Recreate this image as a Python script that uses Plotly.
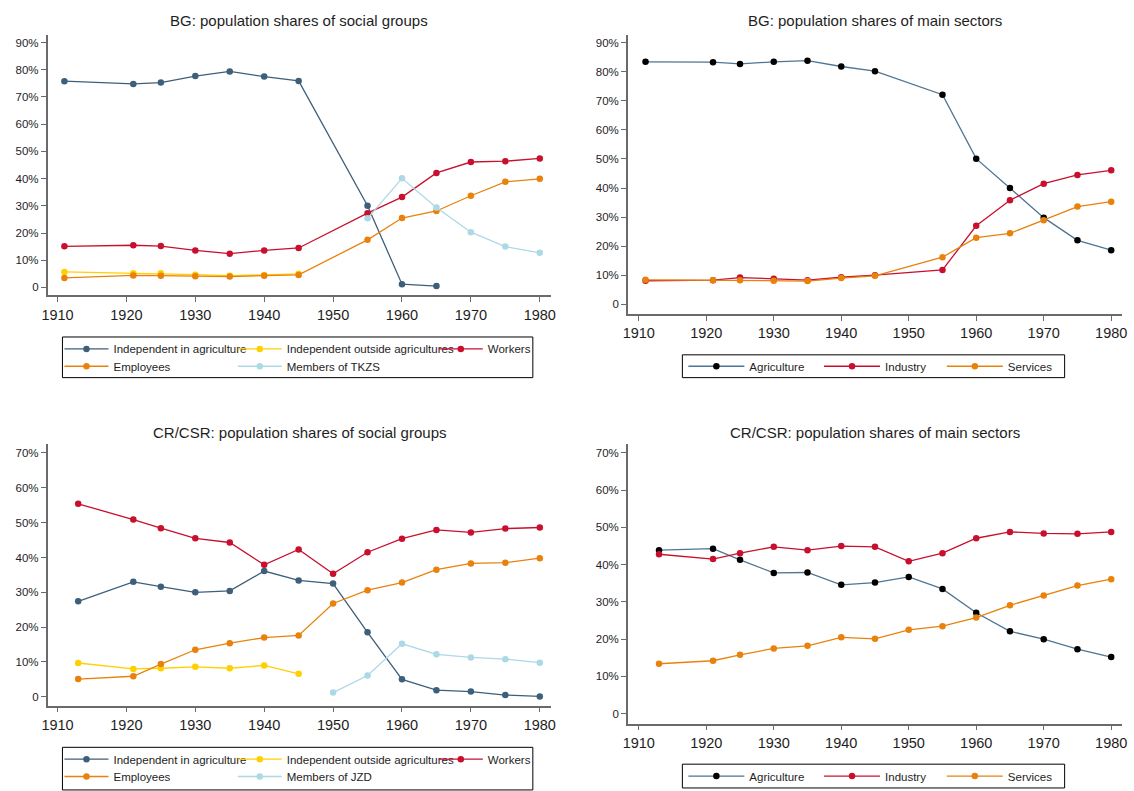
import plotly.graph_objects as go

# ---------------- data (population shares, %) ----------------
# Bulgaria: social groups
bg_years = [1911, 1921, 1925, 1930, 1935, 1940, 1945, 1955, 1960, 1965, 1970, 1975, 1980]
bg_years_agri = [1911, 1921, 1925, 1930, 1935, 1940, 1945, 1955, 1960, 1965]
bg_years_pre = [1911, 1921, 1925, 1930, 1935, 1940, 1945]
bg_years_tkzs = [1955, 1960, 1965, 1970, 1975, 1980]

bg_indep_agri = [75.8, 74.8, 75.3, 77.7, 79.4, 77.5, 75.9, 30.0, 1.2, 0.5]
bg_indep_other = [5.7, 5.2, 5.2, 4.7, 4.3, 4.6, 5.0]
bg_workers = [15.1, 15.5, 15.2, 13.6, 12.4, 13.6, 14.5, 27.3, 33.2, 42.1, 46.1, 46.4, 47.4]
bg_employees = [3.5, 4.4, 4.3, 4.1, 4.0, 4.3, 4.6, 17.5, 25.5, 28.1, 33.7, 38.8, 39.9]
bg_tkzs = [25.4, 40.1, 29.4, 20.3, 15.0, 12.7]

# Bulgaria: main sectors
bg_agriculture = [83.4, 83.3, 82.7, 83.4, 83.8, 81.8, 80.2, 72.1, 50.1, 40.0, 29.8, 22.0, 18.6]
bg_industry = [8.1, 8.3, 9.2, 8.8, 8.3, 9.3, 10.0, 11.8, 27.0, 35.8, 41.5, 44.5, 46.1]
bg_services = [8.4, 8.3, 8.3, 8.1, 8.0, 9.0, 9.8, 16.2, 22.9, 24.4, 28.9, 33.6, 35.3]

# Czechoslovakia: social groups
cs_years = [1913, 1921, 1925, 1930, 1935, 1940, 1945, 1950, 1955, 1960, 1965, 1970, 1975, 1980]
cs_years_pre = [1913, 1921, 1925, 1930, 1935, 1940, 1945]
cs_years_jzd = [1950, 1955, 1960, 1965, 1970, 1975, 1980]

cs_indep_agri = [27.4, 33.0, 31.6, 30.0, 30.4, 36.1, 33.4, 32.5, 18.5, 5.0, 1.9, 1.5, 0.5, 0.1]
cs_indep_other = [9.7, 8.0, 8.2, 8.6, 8.2, 9.0, 6.6]
cs_workers = [55.4, 50.9, 48.4, 45.5, 44.3, 37.9, 42.3, 35.3, 41.5, 45.4, 47.9, 47.2, 48.3, 48.6]
cs_employees = [5.1, 5.9, 9.4, 13.5, 15.4, 17.0, 17.6, 26.8, 30.6, 32.8, 36.5, 38.3, 38.5, 39.8]
cs_jzd = [1.2, 6.1, 15.2, 12.2, 11.3, 10.8, 9.8]

# Czechoslovakia: main sectors
cs_agriculture = [43.9, 44.3, 41.3, 37.8, 37.9, 34.6, 35.2, 36.7, 33.5, 27.1, 22.1, 20.0, 17.3, 15.2]
cs_industry = [42.8, 41.5, 43.1, 44.8, 43.9, 45.0, 44.8, 40.9, 43.1, 47.1, 48.8, 48.4, 48.3, 48.8]
cs_services = [13.4, 14.2, 15.8, 17.5, 18.2, 20.5, 20.1, 22.5, 23.5, 25.8, 29.1, 31.7, 34.4, 36.1]

year_ticks = [1910, 1920, 1930, 1940, 1950, 1960, 1970, 1980]
pct_ticks_90 = [0, 10, 20, 30, 40, 50, 60, 70, 80, 90]
pct_ticks_70 = [0, 10, 20, 30, 40, 50, 60, 70]

titles = [
    "BG: population shares of social groups",
    "BG: population shares of main sectors",
    "CR/CSR: population shares of social groups",
    "CR/CSR: population shares of main sectors",
]

# ---------------- styling ----------------
W, H = 1134, 791
FONT = "Liberation Sans, Arial, Helvetica, sans-serif"
TXT = "#1e1e1e"
AXC = "#6a6a6a"
C_AGRI = "#3E5F7A"
C_AGRI_LINE = "#4E7593"
C_OTHER = "#FFD000"
C_WORK = "#C8102E"
C_EMP = "#E8820C"
C_COOP = "#ADD8E6"


def px_x(v):
    return v / W


def px_y(v):
    return 1 - v / H


def pct_text(vals):
    return ["0" if v == 0 else f"{v}%" for v in vals]


fig = go.Figure()

# panel frames in pixels: (left, right, top, bottom), x range, y range, y ticks
panels = [
    dict(box=(42, 550, 35, 298), xr=[1908.56, 1981.58], yr=[-2.92, 92.9], yt=pct_ticks_90),
    dict(box=(628, 1127, 35, 317), xr=[1908.39, 1981.61], yr=[-3.41, 92.74], yt=pct_ticks_90),
    dict(box=(42, 550, 448, 712), xr=[1908.56, 1981.58], yr=[-2.56, 72.57], yt=pct_ticks_70),
    dict(box=(628, 1127, 448, 730), xr=[1908.39, 1981.61], yr=[-2.66, 72.4], yt=pct_ticks_70),
]

layout_axes = {}
annotations = []
for i, p in enumerate(panels):
    n = "" if i == 0 else str(i + 1)
    l, r, t, b = p["box"]
    layout_axes["xaxis" + n] = dict(
        domain=[px_x(l), px_x(r)], range=p["xr"], anchor="y" + n,
        tickvals=year_ticks, ticks="outside", ticklen=5, tickwidth=1.2, tickcolor=AXC,
        showline=True, linecolor=AXC, linewidth=1.5, showgrid=False, zeroline=False,
        tickfont=dict(family=FONT, size=14.5, color=TXT), fixedrange=True,
    )
    layout_axes["yaxis" + n] = dict(
        domain=[px_y(b), px_y(t)], range=p["yr"], anchor="x" + n,
        tickvals=p["yt"], ticktext=pct_text(p["yt"]), ticks="outside", ticklen=5,
        tickwidth=1.2, tickcolor=AXC, showline=True, linecolor=AXC, linewidth=1.5,
        showgrid=False, zeroline=False,
        tickfont=dict(family=FONT, size=11.5, color=TXT), fixedrange=True,
    )
    annotations.append(dict(
        text=titles[i], xref="paper", yref="paper",
        x=px_x((l + r) / 2), y=px_y(21 if i < 2 else 436),
        xanchor="center", yanchor="middle", showarrow=False,
        font=dict(family=FONT, size=15, color=TXT),
    ))

legend_specs = {}
legend_count = [0]


def add_series(name, xs, ys, panel, line_color, marker_color, leg_left, leg_y, item_w):
    legend_count[0] += 1
    k = legend_count[0]
    lid = "legend" if k == 1 else f"legend{k}"
    ax = "" if panel == 0 else str(panel + 1)
    fig.add_trace(go.Scatter(
        x=xs, y=ys, name=name, mode="lines+markers",
        xaxis="x" + ax, yaxis="y" + ax, legend=lid,
        line=dict(color=line_color, width=1.3),
        marker=dict(color=marker_color, size=6.5),
        hoverinfo="x+y+name",
    ))
    legend_specs[lid] = dict(
        x=px_x(leg_left), y=px_y(leg_y), xanchor="left", yanchor="middle",
        bgcolor="rgba(0,0,0,0)", borderwidth=0, itemwidth=item_w,
        font=dict(family=FONT, size=11.5, color=TXT), tracegroupgap=0,
    )


# column positions of the social-group legends
col_a, col_b, col_c = 54, 229, 432

# BG: social groups
add_series("Independent in agriculture", bg_years_agri, bg_indep_agri, 0, C_AGRI, C_AGRI, col_a, 352, 44)
add_series("Independent outside agricultures", bg_years_pre, bg_indep_other, 0, C_OTHER, C_OTHER, col_b, 352, 44)
add_series("Workers", bg_years, bg_workers, 0, C_WORK, C_WORK, col_c, 352, 44)
add_series("Employees", bg_years, bg_employees, 0, C_EMP, C_EMP, col_a, 369.5, 44)
add_series("Members of TKZS", bg_years_tkzs, bg_tkzs, 0, C_COOP, C_COOP, col_b, 369.5, 44)

# BG: main sectors
add_series("Agriculture", bg_years, bg_agriculture, 1, C_AGRI_LINE, "#000000", 684, 369.5, 56)
add_series("Industry", bg_years, bg_industry, 1, C_WORK, C_WORK, 821, 369.5, 56)
add_series("Services", bg_years, bg_services, 1, C_EMP, C_EMP, 945, 369.5, 56)

# CR/CSR: social groups
add_series("Independent in agriculture", cs_years, cs_indep_agri, 2, C_AGRI, C_AGRI, col_a, 766, 44)
add_series("Independent outside agricultures", cs_years_pre, cs_indep_other, 2, C_OTHER, C_OTHER, col_b, 766, 44)
add_series("Workers", cs_years, cs_workers, 2, C_WORK, C_WORK, col_c, 766, 44)
add_series("Employees", cs_years, cs_employees, 2, C_EMP, C_EMP, col_a, 783.5, 44)
add_series("Members of JZD", cs_years_jzd, cs_jzd, 2, C_COOP, C_COOP, col_b, 783.5, 44)

# CR/CSR: main sectors
add_series("Agriculture", cs_years, cs_agriculture, 3, C_AGRI_LINE, "#000000", 684, 783, 56)
add_series("Industry", cs_years, cs_industry, 3, C_WORK, C_WORK, 821, 783, 56)
add_series("Services", cs_years, cs_services, 3, C_EMP, C_EMP, 945, 783, 56)

# legend frames
frames = [(57, 532, 340, 381), (683, 1069, 358, 381), (57, 532, 754, 797), (683, 1069, 771, 795)]
shapes = [
    dict(type="rect", xref="paper", yref="paper",
         x0=px_x(fl), x1=px_x(fr), y0=px_y(fb), y1=px_y(ft),
         line=dict(color="#000000", width=1), fillcolor="rgba(0,0,0,0)", layer="below")
    for fl, fr, ft, fb in frames
]

fig.update_layout(
    width=W, height=H, margin=dict(l=0, r=0, t=0, b=0),
    paper_bgcolor="white", plot_bgcolor="white",
    font=dict(family=FONT, color=TXT),
    annotations=annotations, shapes=shapes, showlegend=True,
    **layout_axes, **legend_specs,
)

fig.write_html("out.html")
